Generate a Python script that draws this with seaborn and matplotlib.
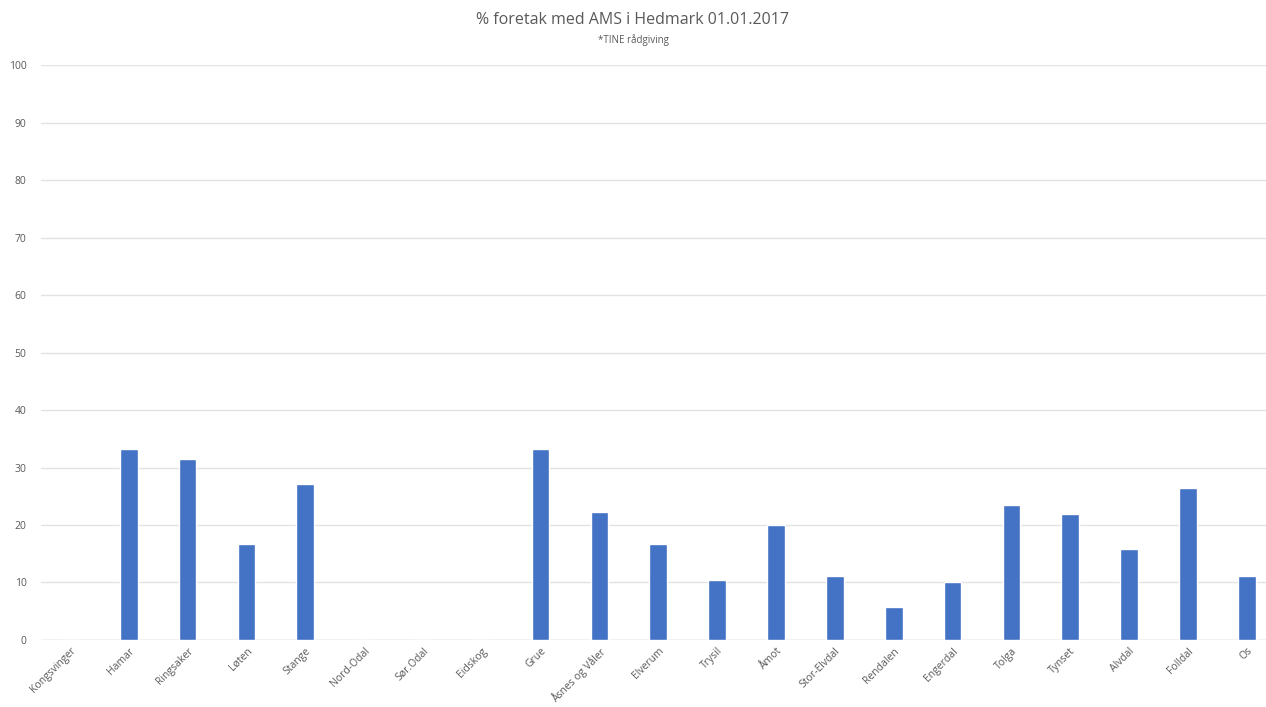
import matplotlib
matplotlib.use("Agg")
import numpy as np
import pandas as pd
import matplotlib.pyplot as plt
import seaborn as sns

kommuner = ["Kongsvinger", "Hamar", "Ringsaker", "Løten", "Stange", "Nord-Odal",
            "Sør.Odal", "Eidskog", "Grue", "Åsnes og Våler", "Elverum", "Trysil",
            "Åmot", "Stor-Elvdal", "Rendalen", "Engerdal", "Tolga", "Tynset",
            "Alvdal", "Folldal", "Os"]
andel_ams = [0, 33.3, 31.4, 16.7, 27.2, 0,
             0, 0, 33.3, 22.2, 16.7, 10.5,
             20.0, 11.1, 5.8, 10.0, 23.5, 22.0,
             15.9, 26.4, 11.1]

df = pd.DataFrame({'kommune': kommuner, 'andel': andel_ams})

sns.set_style("white")
plt.rcParams['font.family'] = ['Open Sans', 'DejaVu Sans']

fig = plt.figure(figsize=(12.66, 7.07), dpi=100)
ax = fig.add_axes([0.032, 0.0948, 0.976, 0.813])

sns.barplot(data=df, x='kommune', y='andel', color='#4472C4', width=0.3,
            saturation=1, ax=ax, zorder=3)

ax.set_ylim(0, 100)
ax.set_yticks(range(0, 101, 10))
ax.yaxis.grid(True, color='#E3E3E3', linewidth=1, zorder=0)
ax.set_xlabel('')
ax.set_ylabel('')
for s in ax.spines.values():
    s.set_visible(False)
ax.axhline(0, color='#D9D9D9', linewidth=1, zorder=2)

ax.tick_params(axis='y', length=0, labelsize=7.5, labelcolor='#595959', pad=10)
ax.tick_params(axis='x', length=0, labelsize=7.5, labelcolor='#595959', pad=4)
plt.setp(ax.get_xticklabels(), rotation=45, ha='right', rotation_mode='anchor')

fig.text(0.5, 0.972, '% foretak med AMS i Hedmark 01.01.2017', ha='center', va='center',
         fontsize=11.5, color='#595959')
fig.text(0.5, 0.943, '*TINE rådgiving', ha='center', va='center',
         fontsize=7, color='#595959')

plt.savefig('out.png', dpi=100)
